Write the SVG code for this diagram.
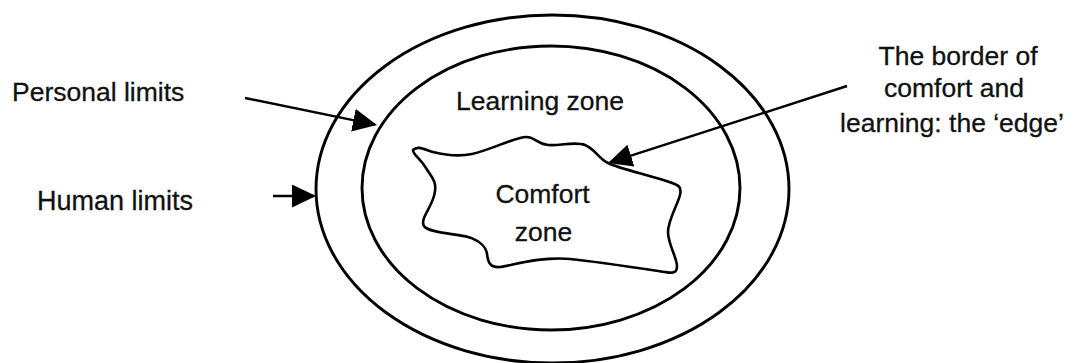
<svg xmlns="http://www.w3.org/2000/svg" width="1074" height="363" viewBox="0 0 1074 363">
  <style>
    .shape { fill: none; stroke: #000; stroke-width: 2.9; }
    .blob { fill: none; stroke: #000; stroke-width: 2.6; stroke-linejoin: round; }
    .conn { fill: none; stroke: #000; stroke-width: 2.4; }
    .lbl { font-family: "Liberation Sans", Arial, Helvetica, sans-serif; font-size: 26.5px; fill: #111; stroke: #111; stroke-width: 0.3; }
    .mid { text-anchor: middle; }
  </style>
  <defs>
    <marker id="arrow" viewBox="0 0 24 23" markerWidth="24" markerHeight="23" refX="22" refY="11.5" orient="auto" markerUnits="userSpaceOnUse">
      <path d="M0,0 L24,11.5 L0,23 Z" fill="#000"/>
    </marker>
  </defs>
  <rect width="1074" height="363" fill="#fff"/>

  <g id="human-limits-zone">
    <ellipse class="shape" cx="552.5" cy="189" rx="236.5" ry="174"/>
  </g>
  <g id="learning-zone">
    <ellipse class="shape" cx="551" cy="188" rx="189" ry="142"/>
    <text class="lbl mid" x="540" y="110">Learning zone</text>
  </g>
  <g id="comfort-zone">
    <path class="blob" d="M413,150 C418,145 425,150 433,152 S458,157 472,154 S505,142 520,138 S535,144 548,145 S575,141 585,145 S598,158 608,163 S640,173 660,179 S682,186 680,195 S668,220 668,232 S677,258 677,266 S672,273 665,272 S600,262 570,259 S510,266 500,267 S488,262 487,254 S478,240 468,237 S428,233 424,226 S430,210 434,196 S432,178 426,168 S413,155 413,150 Z"/>
    <text class="lbl mid" x="542.5" y="203">Comfort</text>
    <text class="lbl mid" x="543.5" y="241">zone</text>
  </g>
  <g id="label-personal-limits">
    <text class="lbl" x="12" y="101">Personal limits</text>
  </g>
  <g id="label-human-limits">
    <text class="lbl" x="37" y="210" style="font-size:27px">Human limits</text>
  </g>
  <g id="label-edge">
    <text class="lbl mid" x="958" y="65">The border of</text>
    <text class="lbl mid" x="954" y="97">comfort and</text>
    <text class="lbl mid" x="952" y="132">learning: the ‘edge’</text>
  </g>

  <g id="connectors">
    <line class="conn" x1="245" y1="98" x2="375" y2="124.6" marker-end="url(#arrow)"/>
    <line class="conn" x1="273" y1="196" x2="314" y2="196" marker-end="url(#arrow)"/>
    <line class="conn" x1="847" y1="86" x2="610" y2="162.4" marker-end="url(#arrow)"/>
  </g>
</svg>
